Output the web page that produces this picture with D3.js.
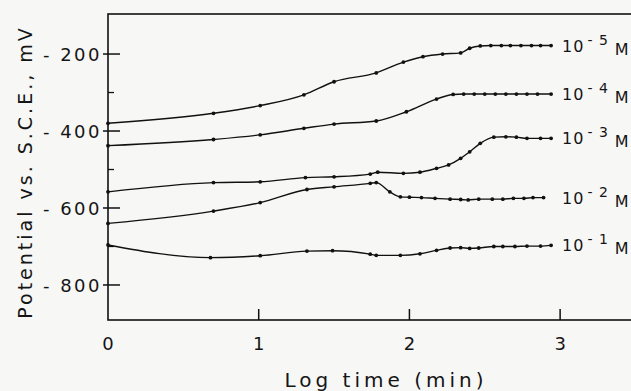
<!DOCTYPE html>
<html>
<head>
<meta charset="utf-8">
<script src="https://cdn.jsdelivr.net/npm/d3@7"></script>
<style>
  html, body { margin: 0; padding: 0; background: #f7f7f6; }
  svg { display: block; }
  text { font-family: "DejaVu Sans", sans-serif; fill: #151515; }
</style>
</head>
<body>
<div id="chart"></div>
<script>
// log time (min) for each reading, and potential (mV vs S.C.E.) per concentration
const x5 = [0, 0.70, 1.01, 1.30, 1.50, 1.78, 1.96, 2.09, 2.22, 2.34, 2.40, 2.47, 2.54, 2.61, 2.67, 2.74, 2.81, 2.87, 2.94];
const v5 = [-380, -354, -334, -306, -272, -249, -221, -207, -200, -197, -185, -179, -178, -178, -178, -178, -178, -178, -178];

const x4 = [0, 0.70, 1.01, 1.30, 1.50, 1.78, 1.98, 2.18, 2.29, 2.36, 2.43, 2.50, 2.57, 2.64, 2.71, 2.78, 2.85, 2.94];
const v4 = [-438, -422, -410, -393, -382, -374, -350, -317, -305, -304, -304, -304, -304, -304, -304, -304, -304, -304];

const x3 = [0, 0.70, 1.01, 1.31, 1.50, 1.74, 1.79, 1.96, 2.07, 2.18, 2.26, 2.34, 2.40, 2.47, 2.56, 2.64, 2.71, 2.78, 2.87, 2.94];
const v3 = [-558, -534, -532, -521, -519, -512, -507, -510, -507, -497, -488, -471, -454, -432, -416, -415, -416, -419, -419, -419];

const x2 = [0, 0.70, 1.01, 1.32, 1.50, 1.74, 1.78, 1.87, 1.94, 2.00, 2.08, 2.17, 2.27, 2.34, 2.39, 2.46, 2.55, 2.62, 2.69, 2.76, 2.82, 2.89];
const v2 = [-640, -608, -586, -552, -545, -536, -534, -558, -571, -572, -573, -575, -577, -578, -579, -577, -577, -577, -575, -575, -573, -573];

const x1 = [0, 0.68, 1.01, 1.32, 1.49, 1.74, 1.78, 1.94, 2.07, 2.18, 2.27, 2.34, 2.40, 2.46, 2.56, 2.62, 2.70, 2.78, 2.87, 2.94];
const v1 = [-696, -729, -724, -712, -711, -720, -723, -723, -719, -710, -704, -703, -705, -704, -700, -700, -700, -699, -699, -697];

const seriesNames = ["5", "4", "3", "2", "1"];   // exponent of 10^-n M
const seriesX = [x5, x4, x3, x2, x1];
const seriesV = [v5, v4, v3, v2, v1];

const xTicks = [0, 1, 2, 3];
const yTicks = [-200, -400, -600, -800];
const yMinorTicks = [-300, -500, -700];

const width = 631, height = 391;
const margin = { top: 14, left: 108, bottom: 71 };

const svg = d3.select("#chart").append("svg")
  .attr("width", width)
  .attr("height", height);

const x = d3.scaleLinear().domain([0, 3.53]).range([margin.left, 640]);
const y = d3.scaleLinear().domain([-891, -96]).range([height - margin.bottom, margin.top]);

// frame (right side runs off the page like in the scan)
svg.append("rect")
  .attr("x", x(0))
  .attr("y", y(-96))
  .attr("width", x(3.53) - x(0))
  .attr("height", y(-891) - y(-96))
  .attr("fill", "none")
  .attr("stroke", "#111")
  .attr("stroke-width", 1.6);

// y ticks
const yAxis = svg.append("g");
yAxis.selectAll("line.major")
  .data(yTicks)
  .enter().append("line")
  .attr("x1", x(0) - 5).attr("x2", x(0) + 12)
  .attr("y1", d => y(d)).attr("y2", d => y(d))
  .attr("stroke", "#111").attr("stroke-width", 1.5);
yAxis.selectAll("line.minor")
  .data(yMinorTicks)
  .enter().append("line")
  .attr("x1", x(0)).attr("x2", x(0) + 6)
  .attr("y1", d => y(d)).attr("y2", d => y(d))
  .attr("stroke", "#111").attr("stroke-width", 1.3);
yAxis.selectAll("text")
  .data(yTicks)
  .enter().append("text")
  .attr("x", x(0) - 6)
  .attr("y", d => y(d) + 7)
  .attr("text-anchor", "end")
  .style("font-size", "18px")
  .style("letter-spacing", "2.5px")
  .text(d => "- " + Math.abs(d));

// x ticks
const xAxis = svg.append("g");
xAxis.selectAll("line")
  .data(xTicks.filter(d => d > 0))
  .enter().append("line")
  .attr("x1", d => x(d)).attr("x2", d => x(d))
  .attr("y1", y(-891)).attr("y2", y(-891) - 11)
  .attr("stroke", "#111").attr("stroke-width", 1.5);
xAxis.selectAll("text")
  .data(xTicks)
  .enter().append("text")
  .attr("x", d => x(d))
  .attr("y", 350)
  .attr("text-anchor", "middle")
  .style("font-size", "18px")
  .text(d => d);

// axis titles
svg.append("text")
  .attr("x", 386)
  .attr("y", 387)
  .attr("text-anchor", "middle")
  .style("font-size", "20px")
  .style("letter-spacing", "4px")
  .text("Log time (min)");

svg.append("text")
  .attr("transform", "translate(32,172) rotate(-90)")
  .attr("text-anchor", "middle")
  .style("font-size", "19px")
  .style("letter-spacing", "3px")
  .text("Potential vs. S.C.E., mV");

// curves
const line = d3.line()
  .x(d => x(d[0]))
  .y(d => y(d[1]))
  .curve(d3.curveMonotoneX);

seriesNames.forEach((name, i) => {
  const pts = seriesX[i].map((t, j) => [t, seriesV[i][j]]);
  const g = svg.append("g");

  g.append("path")
    .datum(pts)
    .attr("d", line)
    .attr("fill", "none")
    .attr("stroke", "#111")
    .attr("stroke-width", 1.4);

  g.selectAll("circle")
    .data(pts)
    .enter().append("circle")
    .attr("cx", d => x(d[0]))
    .attr("cy", d => y(d[1]))
    .attr("r", 1.9)
    .attr("fill", "#111");

  const last = pts[pts.length - 1];
  const label = g.append("text")
    .attr("x", x(2.94) + 11)
    .attr("y", y(last[1]) + 6)
    .style("font-size", "16px")
    .style("letter-spacing", "1px");
  label.append("tspan").text("10");
  label.append("tspan")
    .attr("dx", 3).attr("dy", -7)
    .style("font-size", "14px")
    .text("- " + name);
  label.append("tspan")
    .attr("dx", 6).attr("dy", 10)
    .text("M");
});
</script>
</body>
</html>
